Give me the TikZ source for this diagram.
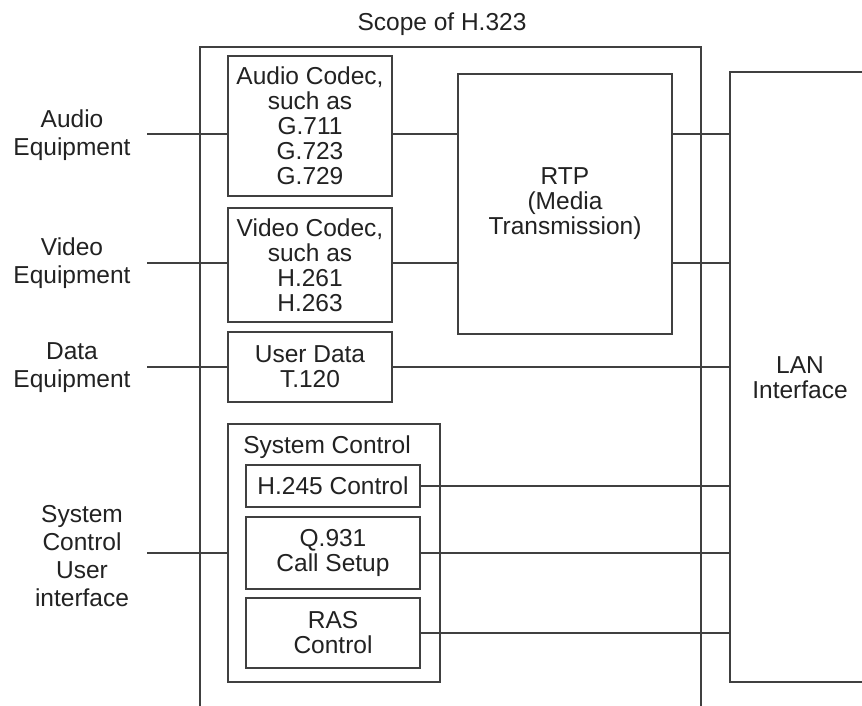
\documentclass[tikz,border=0pt]{standalone}
\usepackage{fontspec}
\setmainfont{Liberation Sans}
\definecolor{lc}{HTML}{404040}
\definecolor{tc}{HTML}{222222}
\newcommand\dgfont{\fontsize{24.5pt}{25pt}\selectfont}
\newcommand\dgfontb{\fontsize{24.5pt}{28pt}\selectfont}
\begin{document}
\begin{tikzpicture}[x=1pt,y=-1pt,
  box/.style={draw=lc, line width=1.5pt, inner sep=0pt, align=center, text=tc, font=\dgfont},
  lbl/.style={inner sep=0pt, align=center, text=tc, font=\dgfont},
  lblb/.style={inner sep=0pt, align=center, text=tc, font=\dgfontb},
  conn/.style={draw=lc, line width=1.5pt}]
\useasboundingbox (0,0) rectangle (862,706);
\fill[white] (0,0) rectangle (862,706);
\clip (0,0) rectangle (862,706);
% scope
\node[box, minimum width=501pt, minimum height=713pt] (scope) at (450.5,403.5) {};
\node[lbl] (scopelbl) at (442,24) {Scope of H.323};
% codecs
\node[box, minimum width=164pt, minimum height=140pt] (audio) at (310,126) {Audio Codec,\\such as\\G.711\\G.723\\G.729};
\node[box, minimum width=164pt, minimum height=114pt] (video) at (310,265) {Video Codec,\\such as\\H.261\\H.263};
\node[box, minimum width=164pt, minimum height=70pt] (data) at (310,367) {User Data\\T.120};
\node[box, minimum width=214pt, minimum height=260pt] (rtp) at (565,204) {RTP\\(Media\\Transmission)};
% LAN
\node[box, minimum width=160pt, minimum height=610pt] (lan) at (810,377) {};
\node[lbl] (lanlbl) at (800,378) {LAN\\Interface};
% system control
\node[box, minimum width=212pt, minimum height=258pt] (sys) at (334,553) {};
\node[lbl] (systitle) at (327,447) {System Control};
\node[box, minimum width=174pt, minimum height=42pt] (h245) at (333,486) {H.245 Control};
\node[box, minimum width=174pt, minimum height=72pt] (q931) at (333,553) {Q.931\\Call Setup};
\node[box, minimum width=174pt, minimum height=70pt] (ras) at (333,633) {RAS\\Control};
% left labels
\node[lblb] (audioeq) at (72,135) {Audio\\Equipment};
\node[lblb] (videoeq) at (72,263) {Video\\Equipment};
\node[lblb] (dataeq) at (72,367.5) {Data\\Equipment};
\node[lblb] (syseq) at (82,556) {System\\Control\\User\\interface};
% connectors
\coordinate (ya) at (147,134);
\coordinate (yv) at (147,263);
\coordinate (yd) at (147,367);
\coordinate (ys) at (147,553);
\draw[conn] (ya) -- (ya -| audio.west);
\draw[conn] (audio.east |- ya) -- (rtp.west |- ya);
\draw[conn] (rtp.east |- ya) -- (lan.west |- ya);
\draw[conn] (yv) -- (yv -| video.west);
\draw[conn] (video.east |- yv) -- (rtp.west |- yv);
\draw[conn] (rtp.east |- yv) -- (lan.west |- yv);
\draw[conn] (yd) -- (yd -| data.west);
\draw[conn] (data.east |- yd) -- (lan.west |- yd);
\draw[conn] (ys) -- (ys -| sys.west);
\draw[conn] (h245.east) -- (lan.west |- h245.east);
\draw[conn] (q931.east) -- (lan.west |- q931.east);
\draw[conn] (ras.east) -- (lan.west |- ras.east);
\end{tikzpicture}
\end{document}
